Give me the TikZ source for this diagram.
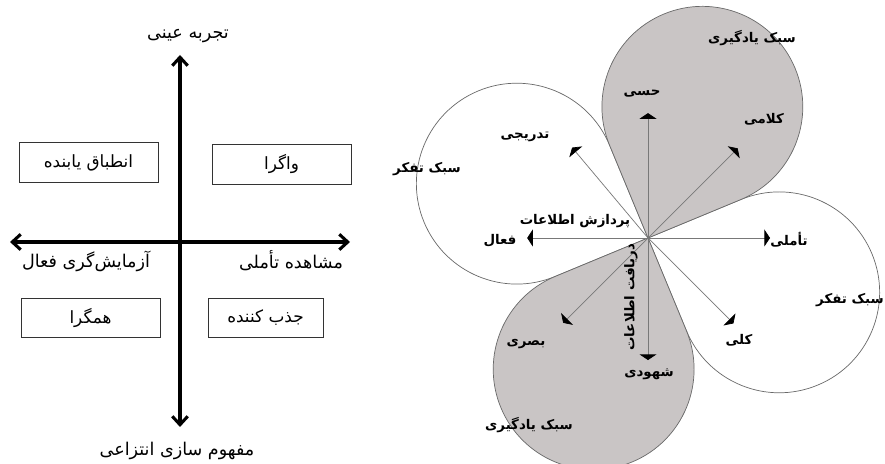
\documentclass[tikz,border=0pt]{standalone}
\usepackage{fontspec}
\usepackage{tikz}
\usetikzlibrary{arrows.meta}
\usetikzlibrary{calc}
\TeXXeTstate=1
\newfontfamily\arabicfont[Script=Arabic]{DejaVu Sans}
\newcommand{\fa}[1]{{\arabicfont\beginR #1\endR}}
\definecolor{petalfill}{RGB}{201,197,197}
\definecolor{petalline}{RGB}{105,105,105}
\definecolor{shaft}{RGB}{120,120,120}
\tikzset{
  quadbox/.style={draw=black!80, line width=0.6pt, minimum width=3.475cm, minimum height=0.98cm, inner sep=0pt, font=\fontsize{12}{14}\selectfont},
  axislabel/.style={font=\fontsize{12.5}{14}\selectfont, inner sep=1pt},
  stylelabel/.style={font=\fontsize{9.5}{11}\selectfont\bfseries, inner sep=1pt},
  petal/.style={draw=petalline, line width=0.5pt},
  tipline/.style={shaft, line width=0.5pt, -{Triangle[length=4pt,width=12pt,color=black]}},
  barb/.style={{Straight Barb[length=6pt,width=11pt]}-{Straight Barb[length=6pt,width=11pt]}},
}

\begin{document}
\begin{tikzpicture}[x=0.025cm, y=0.025cm]
\useasboundingbox (0,0) rectangle (885,464);
\clip (0,0) rectangle (885,464);

% left: the four quadrants
\coordinate (vtop) at (180,409);
\coordinate (vbot) at (180,37);
\coordinate (hleft) at (10,222);
\coordinate (hright) at (350,222);
\draw[black, line width=2.2pt, barb] (vbot) -- (vtop);
\draw[black, line width=2.2pt, barb] (hleft) -- (hright);
\node[axislabel] (concrete) at (188,428) {\fa{تجربه عینی}};
\node[axislabel] (abstract) at (177,13) {\fa{مفهوم سازی انتزاعی}};
\node[axislabel] (active) at (86,203) {\fa{آزمایش‌گری فعال}};
\node[axislabel] (reflective) at (291,203) {\fa{مشاهده تأملی}};
\node[quadbox] (accom) at (88.5,301.5) {\fa{انطباق یابنده}};
\node[quadbox] (diverg) at (281.5,299.5) {\fa{واگرا}};
\node[quadbox] (converg) at (90.5,146) {\fa{همگرا}};
\node[quadbox, minimum width=2.875cm] (assim) at (265.5,146) {\fa{جذب کننده}};

% right: the petals
\coordinate (O) at (648,226);
\foreach \t/\c in {157.5/white, 337.5/white, 67.5/petalfill, 247.5/petalfill} {
  \draw[petal, fill=\c] (O) -- ++(\t-45:2.51cm) arc[start angle=\t-135, end angle=\t+135, radius=2.51cm] -- cycle;
}
\foreach \a/\n/\l in {90/hesi/3.12, 45/kalami/3.17, 130/tadriji/2.95, 180/faal/3.02, 225/basari/3.0, 270/shohudi/3.05, 315/koli/3.02, 0/taamoli/3.05} {
  \coordinate (\n) at ($(O)+(\a:\l cm)$);
  \draw[tipline] (O) -- (\n);
}
\node[stylelabel] (learnA) at (752,426) {\fa{سبک یادگیری}};
\node[stylelabel] (learnB) at (529,39) {\fa{سبک یادگیری}};
\node[stylelabel] (thinkA) at (427,295) {\fa{سبک تفکر}};
\node[stylelabel] (thinkB) at (850,164) {\fa{سبک تفکر}};
\node[stylelabel] (hesiL) at (642,370) {\fa{حسی}};
\node[stylelabel] (kalamiL) at (764,345) {\fa{کلامی}};
\node[stylelabel] (tadrijiL) at (525,327) {\fa{تدریجی}};
\node[stylelabel] (faalL) at (500,223) {\fa{فعال}};
\node[stylelabel] (taamoliL) at (789,224) {\fa{تأملی}};
\node[stylelabel] (koliL) at (739,124) {\fa{کلی}};
\node[stylelabel] (shohudiL) at (649,90) {\fa{شهودی}};
\node[stylelabel] (basariL) at (526,120) {\fa{بصری}};
\node[stylelabel] (process) at (575,243) {\fa{پردازش اطلاعات}};
\node[stylelabel, rotate=90] (receive) at (631,167) {\fa{دریافت اطلاعات}};
\end{tikzpicture}
\end{document}
